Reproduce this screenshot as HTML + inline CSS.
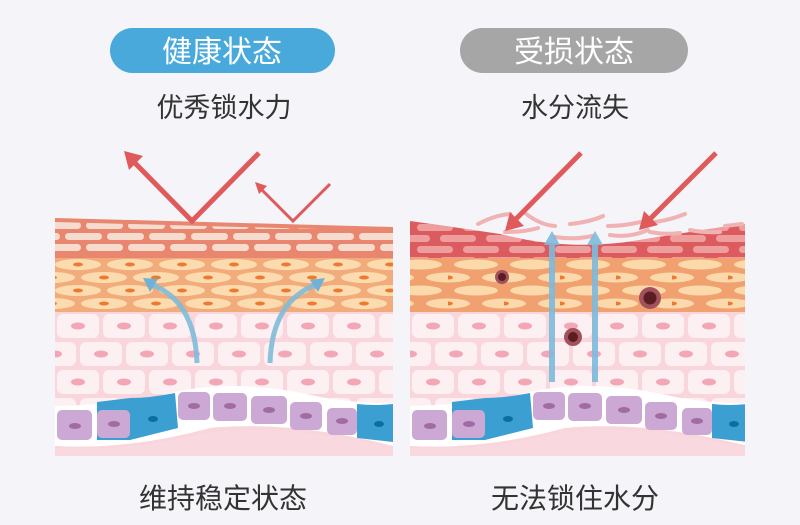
<!DOCTYPE html>
<html><head><meta charset="utf-8"><style>
html,body{margin:0;padding:0;background:#f4f4f9;}
svg{display:block}
text{font-family:"Liberation Sans","Noto Sans CJK SC",sans-serif;}
</style></head><body>
<svg width="800" height="525" viewBox="0 0 800 525" xmlns="http://www.w3.org/2000/svg">
<defs>
<pattern id="brick" x="0" y="220" width="42" height="22" patternUnits="userSpaceOnUse">
<rect x="2" y="2" width="37" height="7" rx="3.5" fill="#f6dccf"/>
<rect x="-19" y="13" width="37" height="7" rx="3.5" fill="#f6dccf"/>
<rect x="23" y="13" width="37" height="7" rx="3.5" fill="#f6dccf"/>
</pattern>
<pattern id="brick2" x="0" y="222" width="46" height="22" patternUnits="userSpaceOnUse">
<rect x="3" y="2" width="36" height="7" rx="3.5" fill="#ef9e9e"/>
<rect x="-20" y="13" width="36" height="7" rx="3.5" fill="#ef9e9e"/>
<rect x="26" y="13" width="36" height="7" rx="3.5" fill="#ef9e9e"/>
</pattern>
<pattern id="orange" x="0" y="258" width="52" height="26" patternUnits="userSpaceOnUse">
<ellipse cx="26" cy="6.5" rx="23" ry="5.5" fill="#fcdcae"/>
<ellipse cx="0" cy="19.5" rx="23" ry="5.5" fill="#fcdcae"/>
<ellipse cx="52" cy="19.5" rx="23" ry="5.5" fill="#fcdcae"/>
<ellipse cx="26" cy="6.5" rx="5" ry="2" fill="#ec7a30"/>
<ellipse cx="0" cy="19.5" rx="5" ry="2" fill="#ec7a30"/>
<ellipse cx="52" cy="19.5" rx="5" ry="2" fill="#ec7a30"/>
</pattern>
<pattern id="orange2" x="0" y="258" width="56" height="26" patternUnits="userSpaceOnUse">
<ellipse cx="28" cy="6.5" rx="22" ry="5" fill="#fbd9aa"/>
<ellipse cx="0" cy="19.5" rx="22" ry="5" fill="#fbd9aa"/>
<ellipse cx="56" cy="19.5" rx="22" ry="5" fill="#fbd9aa"/>
<ellipse cx="0" cy="19.5" rx="5" ry="2" fill="#ec7a30"/>
</pattern>
<pattern id="pink" x="55" y="312" width="46" height="56" patternUnits="userSpaceOnUse">
<rect x="2" y="2" width="42" height="24" rx="6" fill="#fdf0f2"/>
<ellipse cx="23" cy="14" rx="7" ry="3.5" fill="#f3a7b6"/>
<rect x="-21" y="30" width="42" height="24" rx="6" fill="#fdf0f2"/>
<rect x="25" y="30" width="42" height="24" rx="6" fill="#fdf0f2"/>
<ellipse cx="0" cy="42" rx="7" ry="3.5" fill="#f3a7b6"/>
<ellipse cx="46" cy="42" rx="7" ry="3.5" fill="#f3a7b6"/>
</pattern>
<clipPath id="cl"><rect x="55" y="200" width="338" height="256"/></clipPath>
<clipPath id="cr"><rect x="410" y="200" width="335" height="256"/></clipPath>
<g id="lower">
<rect x="55" y="309" width="338" height="147" fill="#f9d5dc"/>
<rect x="55" y="309" width="338" height="100" fill="url(#pink)"/>
<path d="M55,406 Q130,404 175,392 Q240,378 320,397 Q360,404 393,403 L393,446 Q290,420 210,428 Q130,450 55,446Z" fill="#fff"/>
<path d="M97,402 L130,398 Q150,398 175,393 L178,428 L130,440 L97,440Z" fill="#3b9fd1"/>
<path d="M357,404 Q375,406 393,404 L393,442 L357,438Z" fill="#3b9fd1"/>
<path d="M55,448 Q130,452 210,432 Q290,424 393,448 L393,456 L55,456Z" fill="#f9d8df"/>
<g fill="#cba9d4">
<rect x="57" y="410" width="35" height="30" rx="5"/>
<rect x="97" y="410" width="33" height="28" rx="5"/>
<rect x="178" y="392" width="32" height="28" rx="5"/>
<rect x="213" y="393" width="34" height="28" rx="5"/>
<rect x="251" y="396" width="36" height="28" rx="5"/>
<rect x="290" y="402" width="32" height="28" rx="5"/>
<rect x="327" y="408" width="30" height="27" rx="5"/>
</g>
<g fill="#a06ca3">
<ellipse cx="75" cy="426" rx="6" ry="3"/><ellipse cx="114" cy="424" rx="6" ry="3"/>
<ellipse cx="194" cy="406" rx="6" ry="3"/><ellipse cx="230" cy="406" rx="6" ry="3"/>
<ellipse cx="269" cy="410" rx="6" ry="3"/><ellipse cx="306" cy="416" rx="6" ry="3"/>
<ellipse cx="342" cy="421" rx="6" ry="3"/>
</g>
<ellipse cx="153" cy="419" rx="5" ry="3" fill="#0b6f9f"/>
<ellipse cx="379" cy="424" rx="5" ry="3" fill="#0b6f9f"/>
</g>
</defs>

<rect x="110" y="28" width="225" height="45" rx="22.5" fill="#4aa9db"/>
<text x="222" y="62" font-size="30" fill="#fff" text-anchor="middle">健康状态</text>
<rect x="460" y="28" width="228" height="45" rx="22.5" fill="#a6a6a6"/>
<text x="574" y="62" font-size="30" fill="#fff" text-anchor="middle">受损状态</text>
<text x="224" y="117" font-size="27" fill="#333" text-anchor="middle">优秀锁水力</text>
<text x="575" y="117" font-size="27" fill="#333" text-anchor="middle">水分流失</text>
<text x="223" y="508" font-size="28" fill="#333" text-anchor="middle">维持稳定状态</text>
<text x="575" y="508" font-size="28" fill="#333" text-anchor="middle">无法锁住水分</text>

<g clip-path="url(#cl)">
<use href="#lower"/>
<rect x="55" y="256" width="338" height="56" fill="#f2ab7a"/>
<rect x="55" y="258" width="338" height="52" fill="url(#orange)"/>
<path d="M55,218 L393,227 L393,258 L55,258Z" fill="#e9866f"/>
<path d="M55,222 L393,231 L393,255 L55,255Z" fill="url(#brick)"/>
</g>
<g fill="none" stroke="#7fbbd9" stroke-width="5" opacity="0.9">
<path d="M197,363 Q195,300 150,284"/>
<path d="M270,363 Q272,300 318,284"/>
</g>
<path d="M143,278 L158,279 L150,292Z" fill="#6fb2d6"/>
<path d="M325,278 L318,292 L310,280Z" fill="#6fb2d6"/>

<g clip-path="url(#cr)">
<use href="#lower" transform="translate(355,0)"/>
<rect x="410" y="256" width="335" height="56" fill="#f1a170"/>
<rect x="410" y="258" width="335" height="52" fill="url(#orange2)"/>
<path d="M410,221 Q460,228 500,234 Q570,252 640,240 Q700,230 745,224 L745,258 L410,258Z" fill="#dc5b5e"/>
<path d="M410,221 Q460,228 500,234 Q570,252 640,240 Q700,230 745,224 L745,258 L410,258Z" fill="url(#brick2)"/>
</g>
<g fill="none" stroke="#f0b2b2" stroke-width="4" stroke-linecap="round">
<path d="M478,224 Q495,215 510,214"/>
<path d="M505,232 Q525,232 538,228"/>
<path d="M525,213 Q540,225 555,226"/>
<path d="M570,224 Q590,222 603,216"/>
<path d="M555,237 Q575,240 592,236"/>
<path d="M610,235 Q630,238 648,230"/>
<path d="M608,226 Q625,226 640,222"/>
<path d="M655,222 Q670,220 685,214"/>
<path d="M650,232 Q665,235 680,233"/>
<path d="M690,230 Q705,233 720,232"/>
<path d="M725,226 L742,224"/>
</g>
<g fill="#7dbbdc" opacity="0.9">
<rect x="549" y="242" width="6" height="140"/>
<rect x="592" y="242" width="6" height="140"/>
<path d="M552,231 L560,245 L544,245Z"/>
<path d="M595,231 L603,245 L587,245Z"/>
</g>
<g>
<circle cx="502" cy="277" r="7" fill="#a2525c"/><circle cx="502" cy="277" r="4" fill="#5a1e22"/>
<circle cx="650" cy="298" r="11" fill="#a2525c"/><circle cx="650" cy="298" r="6.5" fill="#5a1e22"/>
<circle cx="573" cy="337" r="9" fill="#a2525c"/><circle cx="573" cy="337" r="5" fill="#5a1e22"/>
</g>

<g stroke="#e05a5c" stroke-width="5" fill="none" stroke-linejoin="miter">
<path d="M132,160 L192,221 L259,153"/>
<path d="M260,188 L293,221 L330,184" stroke-width="3"/>
<path d="M581,153 L514,221"/>
<path d="M716,153 L648,221"/>
</g>
<g fill="#e05a5c">
<path d="M124,151 L143,156 L129,170Z"/>
<path d="M255,182 L267,186 L259,194Z"/>
<path d="M505,231 L510,212 L524,226Z"/>
<path d="M639,230 L644,211 L658,225Z"/>
</g>
</svg>
</body></html>
